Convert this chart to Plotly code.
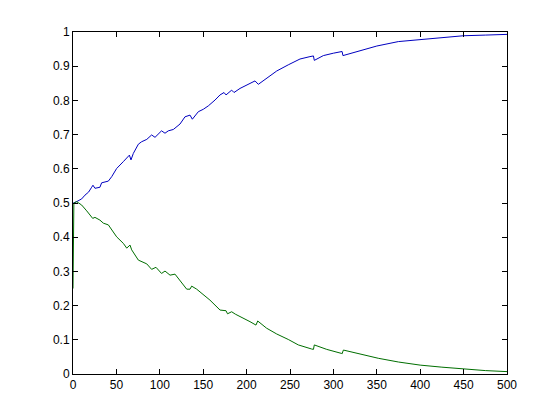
import plotly.graph_objects as go

blue_x = [0, 1, 4.2, 10, 13.8, 18, 21.5, 23, 25.3, 31, 33, 40.7, 44.6, 50.3, 58, 63.7, 65, 66.8, 69.5, 75.3, 79, 85, 90.6,
          94.5, 98.3, 102, 106, 109.8, 115.6, 119.5, 123.3, 129, 134.8, 137.5, 144.4, 150.1, 155.9, 163.6, 169.4, 174,
          176.3, 182.8, 185.5, 192.4, 202, 209.7, 213.5, 223, 234.7, 248, 261.5, 273, 277, 278, 288.4, 300, 310, 311,
          326.8, 350, 374.8, 396, 420, 449.7, 475, 500]
blue_y = [0.5, 0.5, 0.504, 0.512, 0.523, 0.532, 0.546, 0.552, 0.543, 0.546, 0.559, 0.564, 0.577, 0.601, 0.621, 0.637,
          0.640, 0.626, 0.645, 0.672, 0.679, 0.686, 0.699, 0.692, 0.701, 0.711, 0.704, 0.711, 0.715, 0.723, 0.731,
          0.752, 0.757, 0.745, 0.767, 0.774, 0.784, 0.801, 0.816, 0.823, 0.816, 0.830, 0.823, 0.835, 0.847, 0.857,
          0.847, 0.865, 0.886, 0.904, 0.921, 0.928, 0.930, 0.917, 0.931, 0.938, 0.943, 0.931, 0.942, 0.959, 0.972,
          0.977, 0.984, 0.989, 0.991, 0.993]

green_x = [0, 1, 4.2, 10, 15.8, 22.7, 25.3, 31, 35, 40.7, 50.3, 58, 61.9, 65.7, 67.6, 75.3, 85, 90.6, 95.6, 102, 106,
           111.8, 117.5, 123.3, 131, 134.8, 136.7, 142.5, 150.1, 157.8, 169.4, 176.3, 178, 182.8, 187, 194.4, 203.9,
           210.8, 212.8, 223, 234.7, 248, 259.6, 275, 277, 278, 292.3, 309.6, 310, 311.5, 330.6, 351.7, 375, 400,
           425, 449.7, 475, 500]
green_y = [0.25, 0.5, 0.504, 0.494, 0.477, 0.455, 0.458, 0.450, 0.441, 0.436, 0.401, 0.382, 0.368, 0.377, 0.363,
           0.333, 0.322, 0.306, 0.312, 0.294, 0.301, 0.289, 0.292, 0.273, 0.248, 0.248, 0.257, 0.248, 0.231, 0.216,
           0.187, 0.185, 0.176, 0.182, 0.175, 0.166, 0.153, 0.143, 0.155, 0.134, 0.117, 0.101, 0.085, 0.073, 0.072,
           0.085, 0.072, 0.060, 0.059, 0.070, 0.058, 0.046, 0.035, 0.026, 0.020, 0.014, 0.010, 0.007]

x_ticks = list(range(0, 501, 50))
y_ticks = [0, 0.1, 0.2, 0.3, 0.4, 0.5, 0.6, 0.7, 0.8, 0.9, 1]
y_labels = ["0", "0.1", "0.2", "0.3", "0.4", "0.5", "0.6", "0.7", "0.8", "0.9", "1"]

fig = go.Figure()
fig.add_trace(go.Scatter(x=blue_x, y=blue_y, mode="lines", line=dict(color="#0000c0", width=1)))
fig.add_trace(go.Scatter(x=green_x, y=green_y, mode="lines", line=dict(color="#006e00", width=1)))

axis_common = dict(showline=True, linecolor="black", linewidth=1, mirror="ticks", ticks="inside",
                   ticklen=5, tickcolor="black", showgrid=False, zeroline=False,
                   tickfont=dict(family="Liberation Sans, Arial, sans-serif", size=12, color="black"))
fig.update_layout(
    width=560, height=420,
    margin=dict(l=65, r=61, t=24, b=54),
    paper_bgcolor="white", plot_bgcolor="white",
    showlegend=False,
    xaxis=dict(range=[0, 500], tickvals=x_ticks, **axis_common),
    yaxis=dict(range=[0, 1], tickvals=y_ticks, ticktext=y_labels, **axis_common),
)
fig.write_html("out.html")
